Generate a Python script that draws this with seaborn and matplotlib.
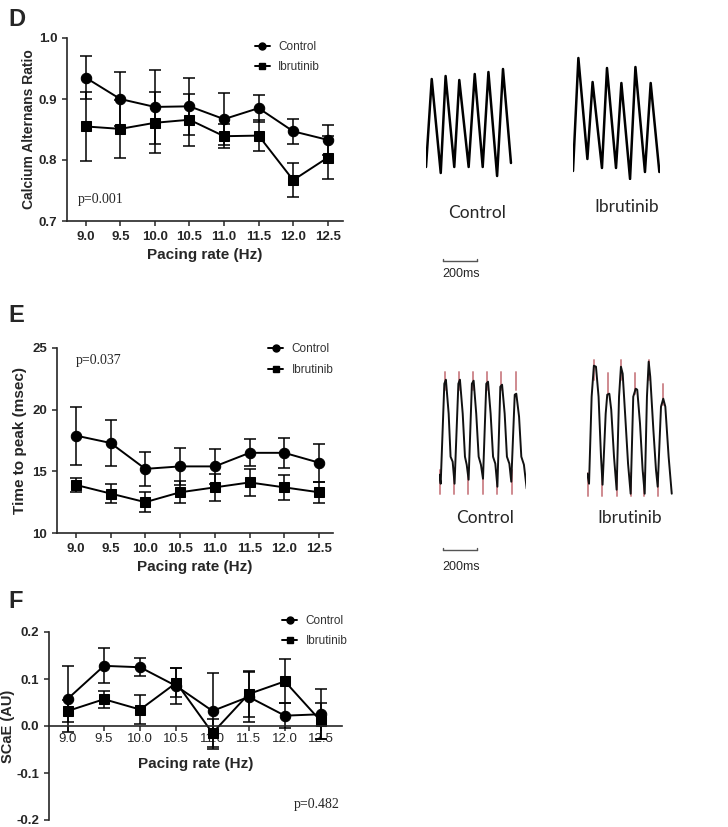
import numpy as np
import pandas as pd
import matplotlib
matplotlib.use("Agg")
import matplotlib.pyplot as plt
from matplotlib.lines import Line2D
import seaborn as sns

# Pacing rates shared by all three panels
rates = [9.0, 9.5, 10.0, 10.5, 11.0, 11.5, 12.0, 12.5]

# D - calcium alternans ratio (mean, SEM)
alt_ctrl = [0.935, 0.900, 0.887, 0.888, 0.867, 0.885, 0.847, 0.833]
alt_ctrl_sem = [0.035, 0.045, 0.060, 0.047, 0.043, 0.022, 0.021, 0.025]
alt_ibr = [0.855, 0.851, 0.861, 0.866, 0.839, 0.840, 0.767, 0.804]
alt_ibr_sem = [0.057, 0.048, 0.050, 0.043, 0.020, 0.026, 0.028, 0.035]

# E - time to peak in msec (mean, SEM)
ttp_ctrl = [17.9, 17.3, 15.2, 15.4, 15.4, 16.5, 16.5, 15.7]
ttp_ctrl_sem = [2.35, 1.85, 1.4, 1.5, 1.4, 1.1, 1.2, 1.55]
ttp_ibr = [13.9, 13.2, 12.5, 13.3, 13.7, 14.1, 13.7, 13.3]
ttp_ibr_sem = [0.55, 0.8, 0.8, 0.9, 1.1, 1.1, 1.0, 0.85]

# F - SCaE (mean, SEM)
scae_ctrl = [0.058, 0.128, 0.125, 0.085, 0.032, 0.062, 0.022, 0.025]
scae_ctrl_sem = [0.07, 0.037, 0.019, 0.038, 0.08, 0.053, 0.026, 0.053]
scae_ibr = [0.032, 0.057, 0.035, 0.092, -0.015, 0.068, 0.095, 0.010]
scae_ibr_sem = [0.024, 0.018, 0.030, 0.031, 0.030, 0.049, 0.047, 0.038]

# Example traces (time in ms, amplitude in a.u.)
d_ctrl_t = [0, 33, 85, 113, 163, 192, 246, 281, 327, 360, 410, 444, 490]
d_ctrl_a = [13, 101, 7, 104, 13, 100, 13, 106, 13, 108, 4, 111, 17]
d_ibr_t = [0, 31, 83, 113, 167, 196, 248, 279, 329, 360, 415, 448, 498]
d_ibr_a = [9, 122, 21, 98, 12, 112, 12, 97, 1, 113, 8, 97, 8]

e_ctrl_t = [0, 8, 29, 38, 54, 65, 77, 88, 110, 119, 135, 148, 158, 169, 188, 198,
            213, 227, 240, 252, 271, 281, 296, 310, 323, 335, 352, 362, 377, 390,
            404, 415, 435, 444, 460, 473, 488, 504]
e_ctrl_a = [22, 13, 113, 117, 83, 40, 35, 13, 113, 117, 83, 40, 32, 17, 113, 116,
            83, 40, 32, 18, 113, 115, 83, 40, 33, 10, 110, 112, 83, 40,
            33, 15, 102, 103, 80, 40, 32, 8]
e_ibr_t = [0, 10, 25, 38, 50, 65, 79, 88, 106, 115, 127, 138, 154, 169, 183, 194,
           204, 219, 235, 250, 265, 279, 288, 304, 319, 331, 344, 354, 363, 381,
           396, 406, 425, 438, 450, 469, 487]
e_ibr_a = [23, 13, 100, 131, 130, 100, 40, 12, 83, 102, 103, 87, 40, 7, 100, 130,
           123, 80, 33, 3, 100, 108, 107, 73, 27, 3, 100, 135, 120, 67,
           27, 10, 90, 98, 90, 40, 3]

# red onset / peak markers on the E traces
e_ctrl_peak_t = [33, 113, 192, 275, 356, 440]
e_ctrl_low_t = [4, 87, 167, 250, 333, 417]
e_ibr_peak_t = [40, 121, 194, 277, 354, 438]
e_ibr_peak_top = [137, 124, 137, 124, 137, 113]
e_ibr_peak_bot = [117, 103, 117, 103, 117, 92]
e_ibr_low_t = [6, 87, 169, 250, 329, 406]

sns.set_style("ticks")
plt.rcParams["font.family"] = ["Liberation Sans", "DejaVu Sans"]
plt.rcParams["axes.unicode_minus"] = False

fig = plt.figure(figsize=(7.28, 8.27), dpi=100)
W, H = 728.0, 827.0


def px_axes(left, top, right, bottom):
    return fig.add_axes([left / W, 1 - bottom / H, (right - left) / W, (bottom - top) / H])


def draw_panel(ax, ctrl, ctrl_sem, ibr, ibr_sem):
    df = pd.DataFrame({
        "rate": rates * 2,
        "value": ctrl + ibr,
        "group": ["Control"] * len(rates) + ["Ibrutinib"] * len(rates),
    })
    sns.lineplot(data=df, x="rate", y="value", style="group",
                 markers={"Control": "o", "Ibrutinib": "s"}, dashes=False,
                 color="black", markersize=7.5, markeredgecolor="black",
                 linewidth=1.4, legend=False, ax=ax, clip_on=False)
    ax.errorbar(rates, ctrl, yerr=ctrl_sem, fmt="none", ecolor="black",
                elinewidth=1.1, capsize=4, capthick=1.1, clip_on=False)
    ax.errorbar(rates, ibr, yerr=ibr_sem, fmt="none", ecolor="black",
                elinewidth=1.1, capsize=4, capthick=1.1, clip_on=False)
    ax.set_xticks(rates)
    ax.set_xticklabels([f"{r:.1f}" for r in rates])
    ax.set_xlabel("Pacing rate (Hz)", fontsize=11, fontweight="bold")
    sns.despine(ax=ax)
    for s in ["left", "bottom"]:
        ax.spines[s].set_linewidth(1.2)
    ax.tick_params(width=1.1, length=3.5, labelsize=9.5)
    for lab in ax.get_xticklabels() + ax.get_yticklabels():
        lab.set_fontweight("bold")
    ax.grid(False)


def add_legend(ax, x, y):
    handles = [
        Line2D([], [], color="black", marker="o", markersize=5, lw=1.4),
        Line2D([], [], color="black", marker="s", markersize=5, lw=1.4),
    ]
    leg = ax.legend(handles, ["Control", "Ibrutinib"], loc="upper left",
                    bbox_to_anchor=(x, y), frameon=False, fontsize=8.5,
                    handlelength=1.3, handletextpad=0.7, labelspacing=0.7,
                    borderpad=0, borderaxespad=0)
    for t in leg.get_texts():
        t.set_color("#333333")


# ---- Panel D
axD = px_axes(67, 38, 343, 221)
draw_panel(axD, alt_ctrl, alt_ctrl_sem, alt_ibr, alt_ibr_sem)
axD.set_xlim(8.73, 12.72)
axD.set_ylim(0.7, 1.0)
axD.set_yticks([0.7, 0.8, 0.9, 1.0])
axD.set_yticklabels(["0.7", "0.8", "0.9", "1.0"])
axD.set_ylabel("Calcium Alternans Ratio", fontsize=10, fontweight="bold", labelpad=2)
add_legend(axD, 0.68, 0.985)
axD.text(8.88, 0.73, "p=0.001", family="Liberation Serif", fontsize=10)

# ---- Panel E
axE = px_axes(57, 348, 333, 533)
draw_panel(axE, ttp_ctrl, ttp_ctrl_sem, ttp_ibr, ttp_ibr_sem)
axE.set_xlim(8.73, 12.70)
axE.set_ylim(10, 25)
axE.set_yticks([10, 15, 20, 25])
axE.set_ylabel("Time to peak (msec)", fontsize=11, fontweight="bold")
add_legend(axE, 0.764, 1.025)
axE.text(9.0, 23.7, "p=0.037", family="Liberation Serif", fontsize=10)

# ---- Panel F
axF = px_axes(49, 632, 342, 820)
draw_panel(axF, scae_ctrl, scae_ctrl_sem, scae_ibr, scae_ibr_sem)
axF.set_xlim(8.74, 12.79)
axF.set_ylim(-0.2, 0.2)
axF.spines["bottom"].set_position(("data", 0))
axF.set_yticks([-0.2, -0.1, 0.0, 0.1, 0.2])
axF.set_yticklabels(["-0.2", "-0.1", "0.0", "0.1", "0.2"])
axF.tick_params(axis="x", pad=1.5)
axF.set_ylabel("SCaE (AU)", fontsize=10.5, fontweight="bold", labelpad=1)
axF.set_xlabel("Pacing rate (Hz)", fontsize=11, fontweight="bold", labelpad=9)
add_legend(axF, 0.795, 1.09)
axF.text(12.12, -0.175, "p=0.482", family="Liberation Serif", fontsize=10)

# panel letters
for letter, ypx in [("D", 20), ("E", 316), ("F", 602)]:
    fig.text(8 / W, 1 - ypx / H, letter, fontsize=17, fontweight="bold", va="center")


# ---- Example traces
def trace_axes(left, baseline, amax):
    ax = fig.add_axes([left / W, 1 - baseline / H, 86.7 / W, amax / H])
    ax.set_xlim(0, 500)
    ax.set_ylim(0, amax)
    ax.axis("off")
    ax.patch.set_visible(False)
    return ax


def scale_bar(ax, t0, a0):
    ax.plot([t0, t0 + 200], [a0, a0], color="#555555", lw=1.0, clip_on=False)
    for tt in [t0, t0 + 200]:
        ax.plot([tt, tt], [a0, a0 + 2], color="#555555", lw=1.0, clip_on=False)


tD1 = trace_axes(426, 180, 125)
sns.lineplot(x=d_ctrl_t, y=d_ctrl_a, sort=False, color="black", lw=1.8, ax=tD1)
tD1.axis("off")
tD2 = trace_axes(573, 180, 125)
sns.lineplot(x=d_ibr_t, y=d_ibr_a, sort=False, color="black", lw=1.8, ax=tD2)
tD2.axis("off")
scale_bar(tD1, 96, -81)

tE1 = trace_axes(439.3, 496.7, 140)
tE2 = trace_axes(587.3, 496.7, 140)
red = "#cf8a8f"
for t in e_ctrl_peak_t:
    tE1.plot([t, t], [107, 125], color=red, lw=1.4, clip_on=False)
for t in e_ctrl_low_t:
    tE1.plot([t, t], [3, 27], color=red, lw=1.4, clip_on=False)
for t, a1, a2 in zip(e_ibr_peak_t, e_ibr_peak_bot, e_ibr_peak_top):
    tE2.plot([t, t], [a1, a2], color=red, lw=1.4, clip_on=False)
for t in e_ibr_low_t:
    tE2.plot([t, t], [1, 24], color=red, lw=1.4, clip_on=False)
sns.lineplot(x=e_ctrl_t, y=e_ctrl_a, sort=False, color="#111111", lw=1.4, ax=tE1)
sns.lineplot(x=e_ibr_t, y=e_ibr_a, sort=False, color="#111111", lw=1.4, ax=tE2)
tE1.axis("off")
tE2.axis("off")
scale_bar(tE1, 19, -53)

# trace labels
for x, y, s in [(477, 213, "Control"), (627, 207, "Ibrutinib"),
                (485, 518, "Control"), (630, 518, "Ibrutinib")]:
    fig.text(x / W, 1 - y / H, s, fontsize=12.5, family="Lato", ha="center", va="center")
for y in [274, 567]:
    fig.text(442 / W, 1 - y / H, "200ms", fontsize=9, ha="left", va="center")

fig.savefig("out.png", dpi=100)
